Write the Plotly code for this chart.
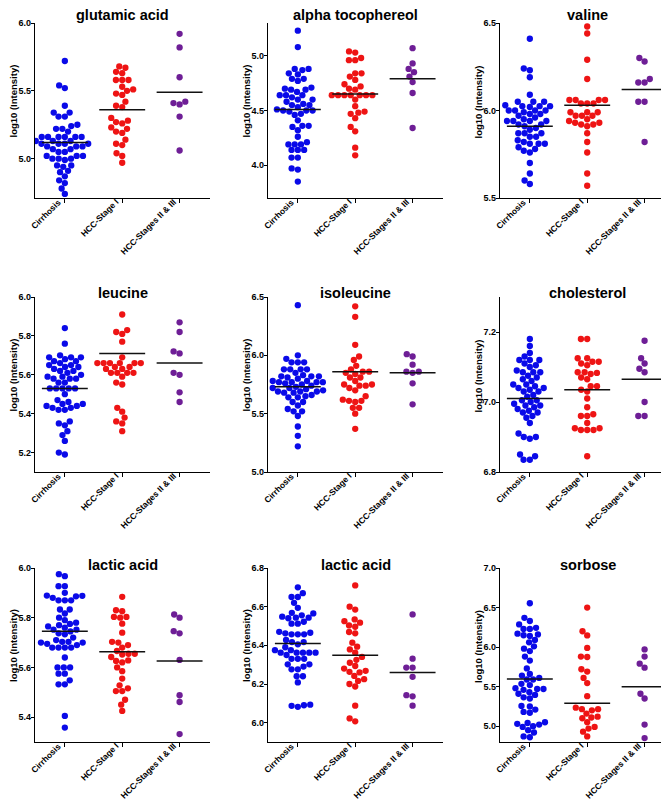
import numpy as np
import plotly.graph_objects as go
from plotly.subplots import make_subplots

groups = ["Cirrhosis", "HCC-Stage I", "HCC-Stages II & III"]
titles = ["glutamic acid", "alpha tocophereol", "valine",
          "leucine", "isoleucine", "cholesterol",
          "lactic acid", "lactic acid", "sorbose"]
y_title = "log10 (Intensity)"

# glutamic acid
glu_cir = [5.72, 5.54, 5.52, 5.39, 5.34, 5.34, 5.31, 5.31, 5.25, 5.24, 5.22, 5.22, 5.20,
           5.16, 5.16, 5.16, 5.16, 5.16, 5.16, 5.13, 5.13, 5.13, 5.11, 5.11, 5.11, 5.11,
           5.09, 5.09, 5.09, 5.07, 5.07, 5.05, 5.05, 5.02, 5.02, 5.02, 5.00, 5.00, 5.00,
           4.99, 4.95, 4.95, 4.94, 4.91, 4.90, 4.87, 4.84, 4.82, 4.78, 4.74]
glu_st1 = [5.68, 5.67, 5.64, 5.63, 5.58, 5.58, 5.58, 5.53, 5.51, 5.50, 5.48, 5.47, 5.42,
           5.39, 5.38, 5.30, 5.28, 5.27, 5.26, 5.23, 5.22, 5.20, 5.19, 5.14, 5.11, 5.10,
           5.04, 5.02, 4.97]
glu_st23 = [5.92, 5.82, 5.60, 5.42, 5.41, 5.40, 5.31, 5.06]
glu_mean = [5.12, 5.36, 5.49]

# alpha tocophereol
toc_cir = [5.23, 5.08, 4.88, 4.88, 4.87, 4.84, 4.83, 4.79, 4.79, 4.77, 4.71, 4.70, 4.69,
           4.69, 4.67, 4.64, 4.64, 4.64, 4.62, 4.60, 4.60, 4.58, 4.56, 4.55, 4.55, 4.53,
           4.51, 4.50, 4.50, 4.50, 4.49, 4.47, 4.46, 4.41, 4.36, 4.36, 4.35, 4.32, 4.26,
           4.21, 4.19, 4.19, 4.19, 4.14, 4.14, 4.14, 4.07, 4.07, 3.97, 3.96, 3.85]
toc_st1 = [5.04, 5.03, 4.98, 4.96, 4.96, 4.84, 4.84, 4.81, 4.78, 4.74, 4.72, 4.70, 4.69,
           4.64, 4.64, 4.64, 4.64, 4.64, 4.64, 4.64, 4.60, 4.54, 4.49, 4.48, 4.47, 4.43,
           4.35, 4.31, 4.16, 4.09]
toc_st23 = [5.07, 4.93, 4.88, 4.85, 4.81, 4.76, 4.66, 4.34]
toc_mean = [4.51, 4.65, 4.79]

# valine
val_cir = [6.41, 6.24, 6.23, 6.19, 6.09, 6.05, 6.05, 6.05, 6.03, 6.025, 6.025, 6.025,
           6.02, 6.00, 6.00, 6.00, 6.00, 5.99, 5.98, 5.98, 5.97, 5.96, 5.95, 5.94, 5.94,
           5.94, 5.94, 5.92, 5.92, 5.91, 5.90, 5.89, 5.87, 5.87, 5.87, 5.85, 5.85, 5.83,
           5.82, 5.81, 5.81, 5.81, 5.79, 5.78, 5.77, 5.76, 5.70, 5.64, 5.60, 5.58]
val_st1 = [6.48, 6.44, 6.29, 6.18, 6.06, 6.06, 6.06, 6.06, 6.04, 6.04, 6.04, 5.99, 5.99,
           5.99, 5.97, 5.97, 5.97, 5.95, 5.94, 5.93, 5.93, 5.92, 5.92, 5.91, 5.87, 5.82,
           5.76, 5.64, 5.57]
val_st23 = [6.30, 6.28, 6.18, 6.16, 6.16, 6.05, 6.05, 5.82]
val_mean = [5.91, 6.03, 6.12]

# leucine
leu_cir = [5.84, 5.76, 5.70, 5.69, 5.69, 5.69, 5.68, 5.67, 5.67, 5.66, 5.65, 5.65, 5.64,
           5.64, 5.63, 5.62, 5.62, 5.61, 5.60, 5.59, 5.59, 5.58, 5.58, 5.58, 5.56, 5.56,
           5.53, 5.53, 5.53, 5.53, 5.53, 5.50, 5.47, 5.46, 5.45, 5.45, 5.44, 5.44, 5.43,
           5.43, 5.42, 5.42, 5.36, 5.35, 5.34, 5.31, 5.29, 5.26, 5.20, 5.19]
leu_st1 = [5.91, 5.83, 5.82, 5.81, 5.77, 5.69, 5.66, 5.66, 5.66, 5.66, 5.66, 5.66, 5.64,
           5.64, 5.63, 5.63, 5.61, 5.61, 5.61, 5.61, 5.59, 5.56, 5.55, 5.43, 5.41, 5.38,
           5.36, 5.35, 5.31]
leu_st23 = [5.87, 5.82, 5.72, 5.71, 5.61, 5.60, 5.51, 5.46]
leu_mean = [5.53, 5.71, 5.66]

# isoleucine
ile_cir = [6.43, 6.00, 5.97, 5.94, 5.94, 5.94, 5.88, 5.88, 5.88, 5.88, 5.85, 5.83, 5.82,
           5.82, 5.82, 5.81, 5.80, 5.78, 5.78, 5.77, 5.77, 5.77, 5.77, 5.76, 5.75, 5.74,
           5.73, 5.72, 5.72, 5.71, 5.70, 5.69, 5.69, 5.69, 5.68, 5.68, 5.66, 5.65, 5.64,
           5.64, 5.60, 5.60, 5.57, 5.54, 5.52, 5.52, 5.48, 5.39, 5.31, 5.22]
ile_st1 = [6.42, 6.33, 6.09, 5.99, 5.96, 5.91, 5.88, 5.86, 5.86, 5.85, 5.84, 5.81, 5.81,
           5.78, 5.75, 5.75, 5.74, 5.74, 5.72, 5.70, 5.65, 5.62, 5.61, 5.61, 5.60, 5.55,
           5.55, 5.50, 5.37]
ile_st23 = [6.01, 5.99, 5.92, 5.86, 5.86, 5.85, 5.76, 5.58]
ile_mean = [5.73, 5.86, 5.85]

# cholesterol
chol_cir = [7.18, 7.16, 7.14, 7.13, 7.12, 7.12, 7.12, 7.11, 7.105, 7.10, 7.09, 7.085,
            7.085, 7.085, 7.075, 7.07, 7.065, 7.06, 7.05, 7.05, 7.045, 7.04, 7.04, 7.035,
            7.03, 7.03, 7.02, 7.015, 7.005, 7.005, 7.00, 6.995, 6.99, 6.99, 6.985, 6.98,
            6.975, 6.97, 6.97, 6.96, 6.955, 6.94, 6.91, 6.90, 6.90, 6.895, 6.85, 6.845,
            6.835, 6.835]
chol_st1 = [7.18, 7.18, 7.125, 7.125, 7.115, 7.115, 7.11, 7.105, 7.085, 7.085, 7.083,
            7.08, 7.07, 7.065, 7.045, 7.045, 7.035, 7.03, 7.01, 6.985, 6.965, 6.96, 6.96,
            6.94, 6.925, 6.925, 6.92, 6.92, 6.92, 6.845]
chol_st23 = [7.175, 7.125, 7.11, 7.095, 7.085, 7.00, 6.96, 6.96]
chol_mean = [7.01, 7.035, 7.065]

# lactic acid (left)
lac1_cir = [5.975, 5.967, 5.927, 5.927, 5.90, 5.889, 5.888, 5.886, 5.88, 5.87, 5.87,
            5.87, 5.833, 5.833, 5.817, 5.80, 5.79, 5.78, 5.775, 5.77, 5.765, 5.76, 5.752,
            5.752, 5.745, 5.737, 5.733, 5.72, 5.71, 5.703, 5.703, 5.70, 5.70, 5.695, 5.69,
            5.68, 5.68, 5.68, 5.68, 5.64, 5.60, 5.60, 5.60, 5.575, 5.575, 5.548, 5.532,
            5.532, 5.405, 5.358]
lac1_st1 = [5.884, 5.83, 5.826, 5.803, 5.803, 5.80, 5.776, 5.74, 5.703, 5.70, 5.69, 5.68,
            5.666, 5.655, 5.655, 5.652, 5.642, 5.628, 5.626, 5.62, 5.60, 5.585, 5.555,
            5.528, 5.516, 5.505, 5.505, 5.47, 5.45, 5.425]
lac1_st23 = [5.813, 5.80, 5.746, 5.737, 5.63, 5.488, 5.461, 5.332]
lac1_mean = [5.746, 5.663, 5.626]

# lactic acid (middle)
lac2_cir = [6.70, 6.67, 6.65, 6.65, 6.62, 6.594, 6.568, 6.565, 6.555, 6.548, 6.543, 6.543,
            6.54, 6.522, 6.512, 6.512, 6.47, 6.465, 6.462, 6.457, 6.457, 6.457, 6.428,
            6.417, 6.417, 6.405, 6.39, 6.375, 6.375, 6.362, 6.362, 6.362, 6.362, 6.362,
            6.35, 6.33, 6.33, 6.33, 6.302, 6.302, 6.29, 6.276, 6.276, 6.24, 6.24, 6.208,
            6.093, 6.09, 6.087, 6.082]
lac2_st1 = [6.71, 6.60, 6.585, 6.534, 6.525, 6.517, 6.503, 6.496, 6.469, 6.462, 6.414,
            6.393, 6.379, 6.362, 6.34, 6.325, 6.31, 6.293, 6.28, 6.268, 6.263, 6.26, 6.242,
            6.225, 6.216, 6.20, 6.187, 6.088, 6.022, 6.007]
lac2_st23 = [6.56, 6.331, 6.285, 6.285, 6.237, 6.142, 6.136, 6.088]
lac2_mean = [6.41, 6.349, 6.259]

# sorbose
sor_cir = [6.554, 6.37, 6.33, 6.287, 6.244, 6.23, 6.23, 6.17, 6.16, 6.15, 6.14, 6.09,
           6.06, 6.01, 5.98, 5.95, 5.88, 5.83, 5.73, 5.66, 5.64, 5.61, 5.59, 5.59, 5.535,
           5.52, 5.48, 5.47, 5.47, 5.46, 5.43, 5.41, 5.395, 5.365, 5.35, 5.255, 5.25,
           5.21, 5.18, 5.17, 5.05, 5.04, 5.03, 5.02, 5.00, 4.99, 4.95, 4.92, 4.87, 4.86]
sor_st1 = [6.50, 6.20, 6.147, 5.99, 5.88, 5.875, 5.72, 5.69, 5.61, 5.545, 5.38, 5.234,
           5.215, 5.215, 5.20, 5.16, 5.12, 5.11, 5.10, 5.05, 4.99, 4.97, 4.93, 4.87]
sor_st23 = [5.97, 5.88, 5.79, 5.74, 5.41, 5.35, 5.02, 4.85]
sor_mean = [5.595, 5.29, 5.50]

panels = [
    ([glu_cir, glu_st1, glu_st23], glu_mean),
    ([toc_cir, toc_st1, toc_st23], toc_mean),
    ([val_cir, val_st1, val_st23], val_mean),
    ([leu_cir, leu_st1, leu_st23], leu_mean),
    ([ile_cir, ile_st1, ile_st23], ile_mean),
    ([chol_cir, chol_st1, chol_st23], chol_mean),
    ([lac1_cir, lac1_st1, lac1_st23], lac1_mean),
    ([lac2_cir, lac2_st1, lac2_st23], lac2_mean),
    ([sor_cir, sor_st1, sor_st23], sor_mean),
]

# axis settings per panel: (y range, tick step)
y_axes = [((4.71, 6.0), 0.5), ((3.7, 5.3), 0.5), ((5.5, 6.5), 0.5),
          ((5.1, 6.0), 0.2), ((5.0, 6.5), 0.5), ((6.8, 7.3), 0.2),
          ((5.3, 6.0), 0.2), ((5.9, 6.8), 0.2), ((4.8, 7.0), 0.5)]

colors = ["#0A0AE8", "#EE1414", "#6E1E96"]
W, H = 669, 800
col_px = [(27, 202), (260, 435), (492, 667)]
row_px = [(15, 190), (289, 464), (560, 734)]
title_px = [7, 285, 557]
x_range = (-0.52, 2.53)
FONT = "Liberation Sans, Arial, sans-serif"


def swarm(vals, px_per_unit, gap=6.3):
    # simple beeswarm: offsets in pixels, closest free spot to the centre
    vals = np.asarray(vals, dtype=float)
    xs = np.zeros(len(vals))
    placed = []
    for i in np.argsort(vals):
        y = vals[i] * px_per_unit
        blocked = []
        for py, pxx in placed:
            dy = abs(y - py)
            if dy < gap:
                w = np.sqrt(gap ** 2 - dy ** 2)
                blocked.append((pxx - w, pxx + w))
        cands = sorted([0.0] + [b for iv in blocked for b in iv], key=lambda c: (abs(c), c))
        for c in cands:
            if all(not (lo + 1e-6 < c < hi - 1e-6) for lo, hi in blocked):
                xs[i] = c
                break
        placed.append((y, xs[i]))
    return xs


fig = make_subplots(rows=3, cols=3)

for k, (data, means) in enumerate(panels):
    r, c = k // 3, k % 3
    (y0, y1), dtick = y_axes[k]
    plot_h = row_px[r][1] - row_px[r][0]
    plot_w = col_px[c][1] - col_px[c][0]
    px_y = plot_h / (y1 - y0)
    px_x = plot_w / (x_range[1] - x_range[0])
    for g, vals in enumerate(data):
        off = swarm(vals, px_y)
        fig.add_trace(go.Scatter(
            x=g + off / px_x, y=vals, mode="markers",
            marker=dict(size=6.3, color=colors[g], line=dict(width=0)),
            showlegend=False, hoverinfo="y"), row=r + 1, col=c + 1)
    for g, m in enumerate(means):
        fig.add_trace(go.Scatter(
            x=[g - 0.4, g + 0.4], y=[m, m], mode="lines",
            line=dict(color="#111111", width=1.5),
            showlegend=False, hoverinfo="skip"), row=r + 1, col=c + 1)

    n = k + 1
    xa = "xaxis" if n == 1 else f"xaxis{n}"
    ya = "yaxis" if n == 1 else f"yaxis{n}"
    fig.update_layout({
        xa: dict(domain=[col_px[c][0] / W, col_px[c][1] / W], range=list(x_range),
                 tickmode="array", tickvals=[0, 1, 2], showticklabels=False,
                 showline=True, linecolor="black", linewidth=1.3, ticks="outside",
                 ticklen=4, tickwidth=1.2, tickcolor="black", showgrid=False,
                 zeroline=False, automargin=False),
        ya: dict(domain=[1 - row_px[r][1] / H, 1 - row_px[r][0] / H], range=[y0, y1],
                 dtick=dtick, tick0=0, tickformat=".1f", showline=True,
                 linecolor="black", linewidth=1.3, ticks="outside", ticklen=3,
                 tickwidth=1.2, tickcolor="black", showgrid=False, zeroline=False,
                 automargin=False, ticklabelstandoff=-2,
                 tickfont=dict(family=FONT, size=9, color="black", weight="bold")),
    })
    # slanted category labels, right end just under each tick
    for g, name in enumerate(groups):
        fig.add_annotation(
            x=g, y=y0, xref=f"x{n}", yref=f"y{n}", text=name, showarrow=False,
            textangle=-45, xanchor="right", yanchor="top", xshift=1, yshift=4,
            font=dict(family=FONT, size=8.5, color="black", weight="bold"))
    fig.add_annotation(
        x=(col_px[c][0] + col_px[c][1]) / 2 / W, y=1 - title_px[r] / H,
        xref="paper", yref="paper", text=titles[k], showarrow=False,
        xanchor="center", yanchor="middle",
        font=dict(family=FONT, size=14.5, color="black", weight="bold"))
    # y-axis title
    fig.add_annotation(
        x=(col_px[c][0] - 22) / W, y=1 - ((row_px[r][0] + row_px[r][1]) / 2 - 9) / H,
        xref="paper", yref="paper", text=y_title, showarrow=False, textangle=-90,
        xanchor="center", yanchor="middle",
        font=dict(family=FONT, size=9.5, color="black", weight="bold"))

fig.update_layout(width=W, height=H, margin=dict(l=0, r=0, t=0, b=0),
                  plot_bgcolor="white", paper_bgcolor="white", showlegend=False)

fig.write_html("out.html")
